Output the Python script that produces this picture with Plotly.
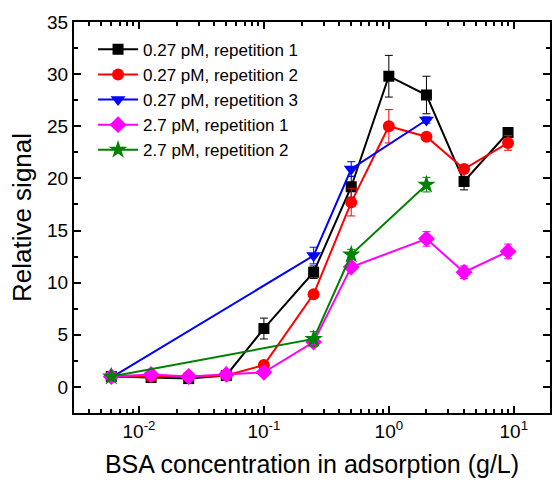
import plotly.graph_objects as go

# Data
x_all = [0.006, 0.0125, 0.025, 0.05, 0.1, 0.25, 0.5, 1, 2, 4, 9]

rep1_027_y = [1.0, 0.9, 0.8, 1.1, 5.6, 11.0, 19.2, 29.8, 28.0, 19.7, 24.4]
rep1_027_err = [0.1, 0.1, 0.1, 0.1, 1.0, 0.6, 1.0, 2.0, 1.8, 0.8, 0.3]

rep2_027_y = [1.0, 1.0, 1.0, 1.1, 2.1, 8.9, 17.7, 25.0, 24.0, 20.9, 23.4]
rep2_027_err = [0.1, 0.1, 0.1, 0.1, 0.2, 0.3, 1.3, 1.6, 0.2, 0.3, 0.7]

x_rep3 = [0.006, 0.25, 0.5, 2]
rep3_027_y = [0.9, 12.6, 20.9, 25.6]
rep3_027_err = [0.1, 0.8, 0.7, 0.3]

x_rep1_27 = [0.006, 0.0125, 0.025, 0.05, 0.1, 0.25, 0.5, 2, 4, 9]
rep1_27_y = [1.0, 1.2, 1.0, 1.2, 1.4, 4.3, 11.5, 14.2, 11.0, 13.0]
rep1_27_err = [0.1, 0.1, 0.1, 0.1, 0.1, 0.4, 0.3, 0.7, 0.6, 0.7]

x_rep2_27 = [0.006, 0.25, 0.5, 2]
rep2_27_y = [1.0, 4.6, 12.7, 19.4]
rep2_27_err = [0.1, 0.7, 0.5, 0.7]

x_tickvals = [0.01, 0.1, 1, 10]
x_ticktext = ["10<sup>-2</sup>", "10<sup>-1</sup>", "10<sup>0</sup>", "10<sup>1</sup>"]
y_tickvals = [0, 5, 10, 15, 20, 25, 30, 35]

names = ["0.27 pM, repetition 1", "0.27 pM, repetition 2", "0.27 pM, repetition 3",
         "2.7 pM, repetition 1", "2.7 pM, repetition 2"]
colors = ["#000000", "#ff0000", "#0000ff", "#ff00ff", "#008000"]
symbols = ["square", "circle", "triangle-down", "diamond", "star"]
sizes = [11, 12, 13, 13, 14]

series = [
    (x_all, rep1_027_y, rep1_027_err),
    (x_all, rep2_027_y, rep2_027_err),
    (x_rep3, rep3_027_y, rep3_027_err),
    (x_rep1_27, rep1_27_y, rep1_27_err),
    (x_rep2_27, rep2_27_y, rep2_27_err),
]

fig = go.Figure()
for (xs, ys, es), n, c, s, sz in zip(series, names, colors, symbols, sizes):
    fig.add_trace(go.Scatter(
        x=xs, y=ys, name=n, mode="lines+markers",
        line=dict(color=c, width=2),
        marker=dict(symbol=s, size=sz, color=c, line=dict(width=0)),
        error_y=dict(type="data", array=es, visible=True, color=c, thickness=1, width=4),
    ))

FONT = "Arial, Liberation Sans, sans-serif"
axis_font = dict(family=FONT, size=19, color="black")

fig.update_layout(
    width=552, height=488,
    margin=dict(l=74, r=2, t=22, b=75),
    paper_bgcolor="white", plot_bgcolor="white",
    font=dict(family=FONT, color="black"),
    showlegend=True,
    legend=dict(x=0.04, y=0.975, xanchor="left", yanchor="top",
                font=dict(size=17, family=FONT),
                bgcolor="rgba(0,0,0,0)", tracegroupgap=0, itemwidth=40),
    xaxis=dict(
        type="log", range=[-2.52, 1.29], automargin=False,
        tickvals=x_tickvals, ticktext=x_ticktext,
        ticks="inside", ticklen=7, tickwidth=1.5, tickcolor="black",
        minor=dict(dtick="D1", ticks="inside", ticklen=4, tickcolor="black", showgrid=False),
        showline=True, linecolor="black", linewidth=2, mirror="allticks",
        showgrid=False, zeroline=False,
        tickfont=axis_font,
        title=dict(text="BSA concentration in adsorption (g/L)",
                   font=dict(size=25, family=FONT), standoff=15),
    ),
    yaxis=dict(
        range=[-2.5, 35], tickvals=y_tickvals, automargin=False,
        ticks="inside", ticklen=7, tickwidth=1.5, tickcolor="black",
        minor=dict(dtick=2.5, ticks="inside", ticklen=4, tickcolor="black", showgrid=False),
        showline=True, linecolor="black", linewidth=2, mirror="allticks",
        showgrid=False, zeroline=False,
        tickfont=axis_font,
        title=dict(text="Relative signal",
                   font=dict(size=26, family=FONT), standoff=8),
    ),
)

fig.write_html("out.html", config={"displayModeBar": False},
               post_script="document.body.style.margin='0';document.body.style.overflow='hidden';")
